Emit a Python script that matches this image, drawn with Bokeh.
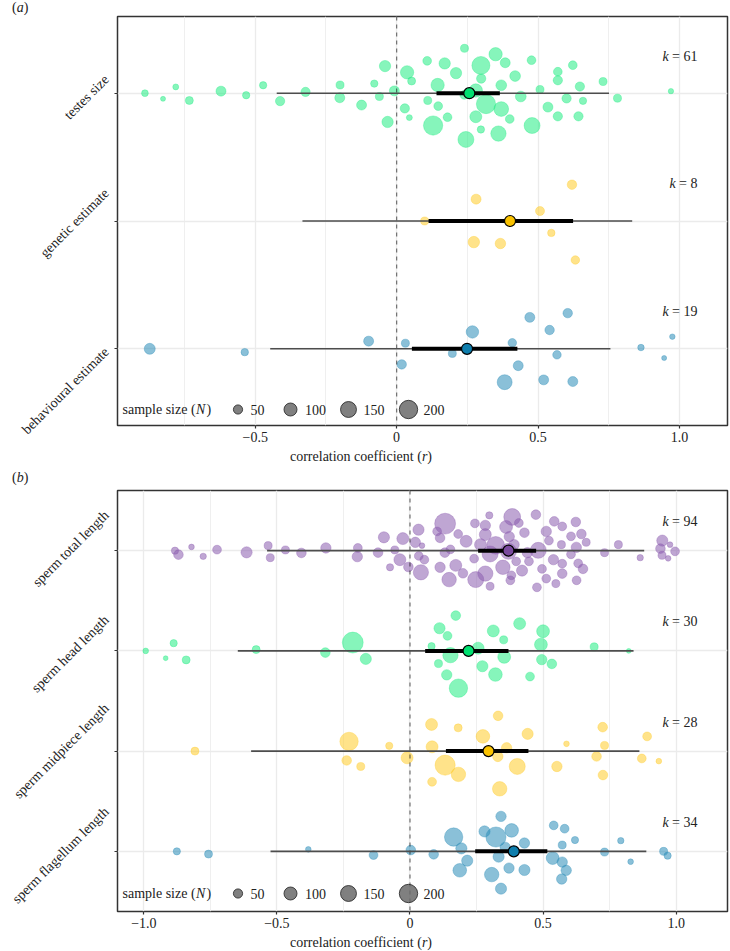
import math
import numpy as np
from bokeh.plotting import figure
from bokeh.models import Range1d, FixedTicker, CustomJSTickFormatter, ColumnDataSource, LinearAxis, Div
from bokeh.layouts import column
from bokeh.embed import file_html
from bokeh.resources import INLINE
from bokeh.core.properties import value

FONT = "Liberation Serif"
FS = "14px"
TXT = "#222222"

# ---------------- panel (a) ----------------
a_categories = ["testes size", "genetic estimate", "behavioural estimate"]
a_k = [61, 8, 19]
a_estimate = [0.257, 0.401, 0.249]
a_ci_low = [0.141, 0.113, 0.054]
a_ci_high = [0.365, 0.624, 0.427]
a_pi_low = [-0.424, -0.333, -0.447]
a_pi_high = [0.751, 0.833, 0.756]

testes_r = [-0.890, -0.826, -0.781, -0.733, -0.621, -0.532, -0.472, -0.412, -0.322, -0.200,
            -0.201, -0.124, -0.079, -0.061, -0.041, -0.008, -0.032, 0.029, 0.037, 0.045,
            0.053, 0.108, 0.170, 0.145, 0.110, 0.147, 0.180, 0.129, 0.210, 0.240,
            0.239, 0.298, 0.299, 0.280, 0.316, 0.280, 0.298, 0.245, 0.350, 0.384,
            0.370, 0.370, 0.400, 0.360, 0.419, 0.439, 0.477, 0.479, 0.507, 0.535,
            0.570, 0.570, 0.570, 0.601, 0.623, 0.648, 0.659, 0.643, 0.730, 0.781, 0.970]
testes_jitter = [0.000, 0.044, -0.049, 0.057, -0.016, 0.016, -0.062, 0.062, -0.010, -0.064,
                 0.036, 0.093, -0.075, 0.026, -0.212, -0.018, 0.225, 0.119, -0.163, 0.191,
                 -0.095, -0.253, -0.233, -0.064, 0.057, 0.101, 0.188, 0.253, -0.157, -0.351,
                 0.013, -0.217, -0.114, -0.021, 0.085, 0.184, 0.284, 0.362, -0.305, -0.238,
                 -0.062, 0.124, 0.202, 0.316, -0.134, 0.026, -0.258, 0.253, -0.029, 0.109,
                 -0.168, -0.101, 0.181, 0.041, -0.219, -0.052, 0.060, 0.181, -0.091, 0.039, -0.016]
testes_n = [27, 15, 21, 38, 59, 32, 32, 51, 51, 38,
            59, 59, 32, 38, 76, 59, 76, 51, 105, 21,
            38, 45, 76, 105, 38, 45, 45, 220, 76, 38,
            45, 192, 51, 105, 220, 85, 32, 151, 105, 59,
            68, 128, 45, 139, 68, 68, 45, 151, 38, 59,
            45, 51, 51, 51, 45, 51, 32, 51, 38, 38, 17]

genetic_r = [0.099, 0.281, 0.273, 0.367, 0.507, 0.547, 0.620, 0.632]
genetic_jitter = [0.000, -0.171, 0.165, 0.176, -0.078, 0.093, -0.284, 0.305]
genetic_n = [38, 59, 78, 65, 48, 33, 53, 43]

behav_r = [-0.873, -0.537, -0.099, 0.031, 0.018, 0.268, 0.197, 0.409, 0.471, 0.541,
           0.605, 0.430, 0.567, 0.382, 0.520, 0.623, 0.864, 0.946, 0.975]
behav_jitter = [0.000, 0.026, -0.060, -0.044, 0.122, -0.132, 0.036, -0.047, -0.246, -0.147,
                -0.279, 0.132, 0.047, 0.261, 0.243, 0.256, -0.010, 0.072, -0.095]
behav_n = [72, 33, 59, 38, 53, 92, 38, 43, 59, 53, 53, 59, 43, 133, 59, 59, 25, 15, 18]

# ---------------- panel (b) ----------------
b_categories = ["sperm total length", "sperm head length", "sperm midpiece length", "sperm flagellum length"]
b_k = [94, 30, 28, 34]
b_estimate = [0.370, 0.220, 0.295, 0.390]
b_ci_low = [0.256, 0.057, 0.135, 0.245]
b_ci_high = [0.474, 0.370, 0.445, 0.516]
b_pi_low = [-0.537, -0.647, -0.597, -0.524]
b_pi_high = [0.880, 0.840, 0.862, 0.888]

total_r = [-0.883, -0.870, -0.821, -0.777, -0.725, -0.614, -0.533, -0.525, -0.468, -0.408,
           -0.316, -0.196, -0.198, -0.120, -0.098, -0.057, -0.027, -0.038, -0.075, -0.006,
           0.020, 0.045, 0.032, 0.033, 0.054, 0.041, 0.102, 0.113, 0.132, 0.131,
           0.152, 0.113, 0.147, 0.172, 0.181, 0.211, 0.199, 0.244, 0.241, 0.247,
           0.265, 0.283, 0.298, 0.283, 0.301, 0.283, 0.301, 0.322, 0.361, 0.384,
           0.373, 0.349, 0.381, 0.377, 0.409, 0.399, 0.391, 0.430, 0.421, 0.441,
           0.473, 0.482, 0.477, 0.496, 0.512, 0.512, 0.522, 0.539, 0.542, 0.569,
           0.572, 0.572, 0.548, 0.572, 0.605, 0.605, 0.623, 0.625, 0.626, 0.632,
           0.644, 0.650, 0.662, 0.731, 0.783, 0.865, 0.948, 0.941, 0.947, 0.977,
           0.970, 0.996, 0.447, 0.370]
total_jitter = [0.000, 0.040, -0.037, 0.057, -0.010, 0.017, -0.050, 0.070, -0.007, 0.023,
                -0.027, -0.027, 0.060, 0.020, -0.133, -0.007, -0.120, 0.090, 0.166, 0.163,
                -0.083, -0.050, -0.209, 0.053, 0.090, 0.216, -0.192, -0.127, -0.269, 0.020,
                -0.013, 0.166, 0.289, 0.147, -0.166, -0.093, 0.226, -0.272, 0.080, 0.289,
                -0.060, -0.252, -0.352, -0.160, 0.033, 0.229, 0.356, -0.053, -0.236, -0.336,
                -0.140, 0.166, 0.246, 0.296, -0.276, 0.107, -0.060, -0.179, 0.199, 0.020,
                -0.359, -0.003, 0.366, 0.182, 0.279, -0.192, -0.100, 0.090, -0.292, -0.060,
                0.130, -0.242, 0.329, 0.229, -0.143, 0.037, -0.286, -0.033, 0.296, 0.127,
                -0.166, 0.182, -0.083, 0.020, -0.060, 0.070, -0.100, -0.020, 0.047, -0.060,
                0.077, 0.007, 0.107, 0.007]
total_n = [31, 55, 19, 24, 46, 74, 38, 38, 38, 55,
           64, 46, 64, 55, 74, 38, 85, 85, 31, 55,
           64, 19, 74, 46, 46, 138, 46, 55, 258, 55,
           46, 64, 124, 85, 46, 85, 55, 46, 46, 152,
           85, 64, 31, 85, 152, 138, 38, 185, 98, 168,
           64, 124, 46, 46, 46, 46, 64, 55, 74, 64,
           55, 152, 46, 46, 46, 64, 46, 64, 55, 38,
           46, 46, 38, 55, 46, 46, 55, 64, 46, 46,
           55, 55, 38, 38, 38, 24, 74, 55, 38, 19,
           19, 46, 46, 152]

head_r = [-0.993, -0.888, -0.918, -0.841, -0.578, -0.318, -0.215, -0.166, 0.081, 0.111,
          0.172, 0.141, 0.152, 0.107, 0.138, 0.182, 0.256, 0.272, 0.313, 0.321,
          0.352, 0.354, 0.412, 0.451, 0.500, 0.492, 0.495, 0.533, 0.692, 0.822]
head_jitter = [0.000, -0.077, 0.073, 0.090, -0.013, 0.017, -0.083, 0.080, -0.047, -0.226,
               -0.352, -0.150, 0.043, 0.127, 0.239, 0.372, -0.027, 0.153, -0.199, 0.236,
               -0.110, 0.060, -0.272, 0.256, -0.196, -0.063, 0.087, 0.130, -0.040, 0.000]
head_n = [19, 31, 14, 38, 38, 55, 258, 74, 31, 74, 55, 46, 138, 38, 64, 200, 85, 74, 85, 110,
          38, 98, 85, 46, 98, 98, 64, 55, 38, 14]

mid_r = [-0.808, -0.229, -0.238, -0.185, -0.078, -0.011, 0.081, 0.083, 0.083, 0.132,
         0.181, 0.182, 0.274, 0.331, 0.330, 0.363, 0.337, 0.403, 0.442, 0.552,
         0.588, 0.701, 0.724, 0.731, 0.725, 0.871, 0.891, 0.935]
mid_jitter = [0.000, -0.097, 0.093, 0.153, -0.053, 0.067, -0.266, -0.043, 0.306, 0.140,
              -0.232, 0.232, -0.147, -0.352, 0.053, -0.033, 0.376, 0.153, -0.172, 0.153,
              -0.073, 0.053, -0.239, -0.057, 0.239, 0.073, -0.147, 0.100]
mid_n = [38, 200, 55, 38, 31, 85, 85, 85, 46, 240, 38, 124, 110, 55, 64, 64, 124, 152, 74, 64,
         19, 55, 55, 38, 55, 46, 46, 19]

flag_r = [-0.876, -0.757, -0.382, -0.137, 0.003, 0.089, 0.164, 0.193, 0.215, 0.187,
          0.280, 0.323, 0.342, 0.382, 0.358, 0.333, 0.307, 0.372, 0.342, 0.430,
          0.430, 0.540, 0.581, 0.572, 0.620, 0.536, 0.572, 0.587, 0.570, 0.731,
          0.792, 0.829, 0.953, 0.968]
flag_jitter = [0.000, 0.027, -0.020, 0.037, -0.013, 0.030, -0.143, -0.030, 0.093, 0.189,
               -0.199, -0.143, -0.349, -0.209, -0.040, 0.053, 0.232, 0.167, 0.372, -0.083,
               0.186, -0.259, -0.226, -0.063, -0.113, 0.067, 0.107, 0.189, 0.276, 0.007,
               -0.107, 0.103, 0.000, 0.043]
flag_n = [31, 38, 19, 46, 55, 55, 200, 74, 74, 110, 74, 240, 64, 110, 64, 74, 124, 64, 74, 64,
          74, 46, 46, 38, 31, 98, 64, 64, 64, 38, 24, 19, 38, 31]

legend_n = [50, 100, 150, 200]

GREEN, GREEN_D = "#22EC84", "#00E070"
YELLOW, YELLOW_D = "#FFCC2A", "#FAC200"
BLUE, BLUE_D = "#2A8DB8", "#0E7EAD"
PURPLE, PURPLE_D = "#8B5CAE", "#7A4A9E"

# approximate Times/Liberation Serif advance widths (em) for layout of rotated labels
_W = dict(a=.444, b=.5, c=.444, d=.5, e=.444, f=.333, g=.5, h=.5, i=.278, j=.278, k=.5, l=.278,
          m=.778, n=.5, o=.5, p=.5, q=.5, r=.333, s=.389, t=.278, u=.5, v=.5, w=.722, x=.5,
          y=.5, z=.444)


def text_w(s, px=14):
    return sum(_W.get(ch, .25) for ch in s) * px


def size_px(n):
    return 1.3 * np.sqrt(np.asarray(n, dtype=float))


def make_panel(cats, ks, est, ci_lo, ci_hi, pi_lo, pi_hi, groups, cols, sum_cols,
               xlim, xticks, frame_h, legend_gap, label_drop):
    nrow = len(cats)
    ymin, ymax = 0.4, nrow + 0.6
    top, bottom = 1, 24
    height = frame_h + top + bottom
    p = figure(width=730, height=height, x_range=Range1d(*xlim), y_range=Range1d(ymax, ymin),
               output_backend="svg", toolbar_location=None,
               min_border_left=117, min_border_right=3, min_border_top=top, min_border_bottom=bottom)
    fw = 610
    ppx = fw / (xlim[1] - xlim[0])
    ppy = frame_h / (ymax - ymin)
    rows = list(range(1, nrow + 1))

    p.outline_line_color = "#333333"
    p.outline_line_width = 1.5
    p.background_fill_color = "white"
    p.border_fill_color = "white"

    p.xaxis.ticker = FixedTicker(ticks=xticks)
    p.xaxis.formatter = CustomJSTickFormatter(
        code="if (Math.abs(tick) < 1e-9) { return '0'; } return (tick < 0 ? '\\u2212' : '') + Math.abs(tick).toFixed(1);")
    # tick marks at rows (no text)
    p.yaxis.ticker = FixedTicker(ticks=rows)
    p.yaxis.formatter = CustomJSTickFormatter(code="return '';")
    # rotated category labels; label_drop = where the label centre sits below its row (px)
    lab_pos = [rows[i] - (0.354 * text_w(c) - label_drop[i]) / ppy for i, c in enumerate(cats)]
    lab_axis = LinearAxis(ticker=FixedTicker(ticks=lab_pos),
                          formatter=CustomJSTickFormatter(
                              args=dict(lab_at=lab_pos, lab_names=cats),
                              code="for (let j = 0; j < lab_at.length; j++) { if (Math.abs(lab_at[j] - tick) < 1e-6) { return lab_names[j]; } } return '';"))
    p.add_layout(lab_axis, "left")
    lab_axis.major_label_orientation = math.pi / 4
    lab_axis.major_tick_line_color = None
    lab_axis.major_tick_out = 0
    lab_axis.major_tick_in = 0
    lab_axis.axis_line_color = None
    lab_axis.minor_tick_line_color = None
    lab_axis.major_label_text_font = FONT
    lab_axis.major_label_text_font_size = FS
    lab_axis.major_label_text_color = TXT
    lab_axis.major_label_standoff = 8

    for ax in [p.xaxis[0], p.yaxis[0]]:
        ax.axis_line_color = None
        ax.major_tick_out = 3
        ax.major_tick_in = 0
        ax.major_tick_line_color = "#333333"
        ax.major_tick_line_width = 1.2
        ax.minor_tick_line_color = None
        ax.major_label_text_font = FONT
        ax.major_label_text_font_size = FS
        ax.major_label_text_color = TXT
        ax.major_label_standoff = 3
    p.yaxis[0].major_label_standoff = 0

    gmaj = [v for v in [-1.0, -0.5, 0.0, 0.5, 1.0] if xlim[0] < v < xlim[1]]
    gmin = [v for v in [-0.75, -0.25, 0.25, 0.75] if xlim[0] < v < xlim[1]]
    p.xgrid.ticker = FixedTicker(ticks=gmaj, minor_ticks=gmin)
    p.xgrid.grid_line_color = "#EBEBEB"
    p.xgrid.grid_line_width = 1.3
    p.xgrid.minor_grid_line_color = "#EDEDED"
    p.xgrid.minor_grid_line_width = 0.9
    p.ygrid.ticker = FixedTicker(ticks=rows)
    p.ygrid.grid_line_color = "#EBEBEB"
    p.ygrid.grid_line_width = 1.3

    # study-level effect sizes
    for i, (r, jit, n) in enumerate(groups):
        src = ColumnDataSource(dict(x=r, y=[rows[i] + j for j in jit], s=size_px(n)))
        p.scatter("x", "y", size="s", source=src, fill_color=cols[i], fill_alpha=0.55,
                  line_color=cols[i], line_alpha=0.35, line_width=1)

    # zero line
    p.segment(x0=[0], x1=[0], y0=[ymin], y1=[ymax], line_color="black", line_alpha=0.5,
              line_width=1.3, line_dash="4 4")
    # prediction and confidence intervals, pooled estimate
    p.segment(x0=pi_lo, x1=pi_hi, y0=rows, y1=rows, line_color="#4D4D4D", line_width=1.6)
    p.segment(x0=ci_lo, x1=ci_hi, y0=rows, y1=rows, line_color="black", line_width=4)
    p.scatter(x=est, y=rows, size=11, fill_color=sum_cols, line_color="black", line_width=1.2)

    # k labels: right-aligned ~30 px from the right frame edge
    for i, k in enumerate(ks):
        rest = "= %d" % k
        w_rest = 7.9 + 3.5 + 7.0 * len(str(k))
        yk = rows[i] - 0.29
        p.text(x=[xlim[1]], y=[yk], text=[rest], x_offset=-30, text_align="right",
               text_baseline="middle", text_font=value(FONT), text_font_size=FS, text_color=TXT)
        p.text(x=[xlim[1]], y=[yk], text=["k"], x_offset=-30 - w_rest - 3.5, text_align="right",
               text_baseline="middle", text_font=value(FONT), text_font_size=FS,
               text_font_style="italic", text_color=TXT)

    # size legend (bottom-left inside the frame)
    ly = ymax - legend_gap / ppy

    def xpx(off):
        return xlim[0] + off / ppx
    p.text(x=[xpx(5)], y=[ly], text=["sample size ("], text_align="left", text_baseline="middle",
           text_font=value(FONT), text_font_size=FS, text_color=TXT)
    p.text(x=[xpx(78.5)], y=[ly], text=["N"], text_align="left", text_baseline="middle",
           text_font=value(FONT), text_font_size=FS, text_font_style="italic", text_color=TXT)
    p.text(x=[xpx(89)], y=[ly], text=[")"], text_align="left", text_baseline="middle",
           text_font=value(FONT), text_font_size=FS, text_color=TXT)
    circ_off = [120.5, 173, 231, 291]
    num_off = [133, 187.5, 246, 306]
    p.scatter(x=[xpx(o) for o in circ_off], y=[ly] * 4, size=size_px(legend_n),
              fill_color="#6A6A6A", fill_alpha=0.85, line_color="#222222", line_alpha=0.8, line_width=1)
    p.text(x=[xpx(o) for o in num_off], y=[ly] * 4, text=[str(n) for n in legend_n],
           text_align="left", text_baseline="middle", text_font=value(FONT), text_font_size=FS,
           text_color=TXT)
    return p


def txt_css(lh):
    return ("font-family:'Liberation Serif',serif; font-size:14px; line-height:%dpx; "
            "color:#222222; white-space:nowrap;" % lh)


TITLE_HTML = ('<div style="' + txt_css(16) + ' padding-left:122px; width:600px; text-align:center;">'
              'correlation coefficient (<i>r</i>)</div>')


def tag_html(letter, mt=0, lh=16):
    return '<div style="' + txt_css(lh) + ' margin-left:12px; margin-top:%dpx;">(<i>%s</i>)</div>' % (mt, letter)


pa = make_panel(a_categories, a_k, a_estimate, a_ci_low, a_ci_high, a_pi_low, a_pi_high,
                [(testes_r, testes_jitter, testes_n), (genetic_r, genetic_jitter, genetic_n),
                 (behav_r, behav_jitter, behav_n)],
                [GREEN, YELLOW, BLUE], [GREEN_D, YELLOW_D, BLUE_D],
                (-0.987, 1.170), [-0.5, 0.0, 0.5, 1.0], frame_h=409, legend_gap=16,
                label_drop=[4, 2, 42])
pb = make_panel(b_categories, b_k, b_estimate, b_ci_low, b_ci_high, b_pi_low, b_pi_high,
                [(total_r, total_jitter, total_n), (head_r, head_jitter, head_n),
                 (mid_r, mid_jitter, mid_n), (flag_r, flag_jitter, flag_n)],
                [PURPLE, GREEN, YELLOW, BLUE], [PURPLE_D, GREEN_D, YELLOW_D, BLUE_D],
                (-1.099, 1.193), [-1.0, -0.5, 0.0, 0.5, 1.0], frame_h=421, legend_gap=18,
                label_drop=[-2, 3, 0, 4])

div_a = Div(text=tag_html("a", 0, 15), width=730, height=15, margin=(0, 0, 0, 0))
div_mid = Div(text=TITLE_HTML + tag_html("b", 5), width=730, height=40, margin=(0, 0, 0, 0))
div_bot = Div(text=TITLE_HTML, width=730, height=15, margin=(0, 0, 0, 0))

layout = column(div_a, pa, div_mid, pb, div_bot, spacing=0)
with open("out.html", "w", encoding="utf-8") as f:
    f.write(file_html(layout, INLINE))
